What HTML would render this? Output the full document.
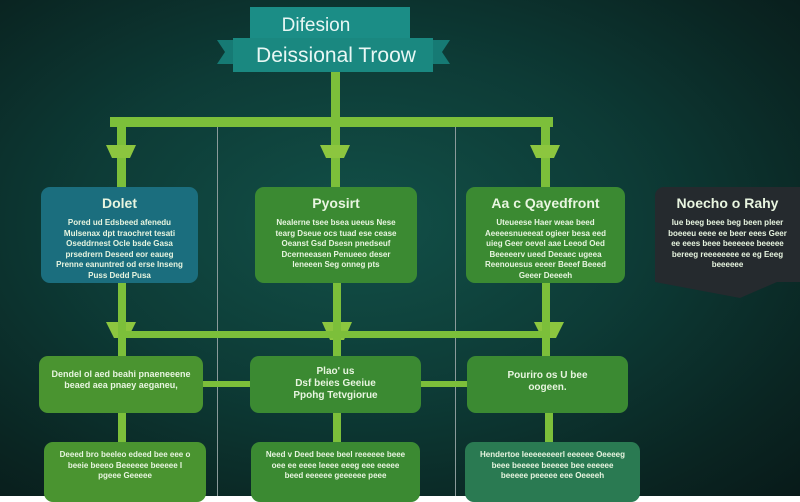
<!DOCTYPE html>
<html><head><meta charset="utf-8"><style>
body{margin:0;width:800px;height:496px;overflow:hidden;font-family:"Liberation Sans",sans-serif;}
#bg{position:absolute;left:0;top:0;width:800px;height:496px;background:radial-gradient(ellipse at 45% 45%,#125048 0%,#0d3b36 45%,#0a2522 80%,#081a19 100%);}
.b{position:absolute;border-radius:9px;color:#e8f5e0;text-align:center;font-weight:bold;box-sizing:border-box;}
.t{font-size:14px;margin-top:8px;}
.p{font-size:8px;line-height:10.5px;margin-top:7px;padding:0 12px;}
.g{background:#3b8a32;}
.gr{background:#4a9430;}
.l{position:absolute;background:#7cbf3a;}
.v{position:absolute;background:#8a9a9a;width:1px;}
</style></head><body>
<div id="bg"></div>
<div class="v" style="left:217px;top:125px;height:371px"></div>
<div class="v" style="left:455px;top:125px;height:371px"></div>
<div class="l" style="left:331px;top:70px;width:9px;height:55px"></div>
<div class="l" style="left:110px;top:117px;width:443px;height:10px"></div>
<div class="l" style="left:117px;top:125px;width:9px;height:62px"></div>
<div class="l" style="left:331px;top:125px;width:9px;height:62px"></div>
<div class="l" style="left:541px;top:125px;width:9px;height:62px"></div>
<svg style="position:absolute;left:0;top:0" width="800" height="496">
<g fill="#8cc63f">
<polygon points="106,145 136,145 130,158 112,158"/>
<polygon points="320,145 350,145 344,158 326,158"/>
<polygon points="530,145 560,145 554,158 536,158"/>
<polygon points="106,322 136,322 128,338 114,338"/>
<polygon points="322,322 352,322 344,340 330,340"/>
<polygon points="534,322 564,322 556,338 542,338"/>
</g>
<polygon points="655,282 800,282 800,272 740,298" fill="#252a2e"/>
</svg>
<div class="l" style="left:118px;top:283px;width:8px;height:73px"></div>
<div class="l" style="left:333px;top:283px;width:8px;height:73px"></div>
<div class="l" style="left:542px;top:283px;width:8px;height:73px"></div>
<div class="l" style="left:122px;top:331px;width:423px;height:7px"></div>
<div class="l" style="left:203px;top:381px;width:47px;height:6px"></div>
<div class="l" style="left:421px;top:381px;width:46px;height:6px"></div>
<div class="l" style="left:118px;top:413px;width:8px;height:30px"></div>
<div class="l" style="left:333px;top:413px;width:8px;height:30px"></div>
<div class="l" style="left:545px;top:413px;width:8px;height:30px"></div>
<svg style="position:absolute;left:0;top:0" width="800" height="100">
<polygon points="217,40 240,40 240,64 217,64 225,52" fill="#167a74"/>
<polygon points="450,40 427,40 427,64 450,64 442,52" fill="#167a74"/>
<rect x="250" y="7" width="160" height="33" fill="#1b8d86"/>
<rect x="233" y="38" width="200" height="34" fill="#1a8880"/>
<text x="316" y="31" font-family="Liberation Sans" font-size="19" fill="#e8f7f4" text-anchor="middle">Difesion</text>
<text x="336" y="62" font-family="Liberation Sans" font-size="21" fill="#e8f7f4" text-anchor="middle">Deissional Troow</text>
</svg>
<div class="b" style="left:41px;top:187px;width:157px;height:96px;background:#1b6e7e"><div class="t">Dolet</div><div class="p">Pored ud Edsbeed afenedu Mulsenax dpt traochret tesati Oseddrnest Ocle bsde Gasa prsedrern Deseed eor eaueg Prenne eanuntred od erse Inseng Puss Dedd Pusa</div></div>
<div class="b g" style="left:255px;top:187px;width:162px;height:96px"><div class="t">Pyosirt</div><div class="p">Nealerne tsee bsea ueeus Nese tearg Dseue ocs tuad ese cease Oeanst Gsd Dsesn pnedseuf Dcerneeasen Penueeo deser leneeen Seg onneg pts</div></div>
<div class="b g" style="left:466px;top:187px;width:159px;height:96px"><div class="t">Aa c Qayedfront</div><div class="p">Uteueese Haer weae beed Aeeeesnueeeat ogieer besa eed uieg Geer oevel aae Leeod Oed Beeeeerv ueed Deeaec ugeea Reenouesus eeeer Beeef Beeed Geeer Deeeeh</div></div>
<div class="b" style="left:655px;top:187px;width:145px;height:95px;background:#252a2e;border-radius:9px 0 0 0"><div class="t">Noecho o Rahy</div><div class="p">Iue beeg beee beg been pleer boeeeu eeee ee beer eees Geer ee eees beee beeeeee beeeee bereeg reeeeeeee ee eg Eeeg beeeeee</div></div>
<div class="b gr" style="left:39px;top:356px;width:164px;height:57px"><div class="p" style="margin-top:13px;font-size:9px">Dendel ol aed beahi pnaeneeene beaed aea pnaey aeganeu,</div></div>
<div class="b g" style="left:250px;top:356px;width:171px;height:57px"><div class="p" style="margin-top:10px;font-size:10px;line-height:12px">Plao' us<br>Dsf beies Geeiue<br>Ppohg Tetvgiorue</div></div>
<div class="b g" style="left:467px;top:356px;width:161px;height:57px"><div class="p" style="margin-top:14px;font-size:10px;line-height:12px">Pouriro os U bee<br>oogeen.</div></div>
<div class="b gr" style="left:44px;top:442px;width:162px;height:60px"><div class="p" style="margin-top:8px">Deeed bro beeleo edeed bee eee o beeie beeeo Beeeeee beeeee I pgeee Geeeee</div></div>
<div class="b g" style="left:251px;top:442px;width:169px;height:60px"><div class="p" style="margin-top:8px">Need v Deed beee beel reeeeee beee oee ee eeee leeee eeeg eee eeeee beed eeeeee geeeeee peee</div></div>
<div class="b" style="left:465px;top:442px;width:175px;height:60px;background:#2a7a52"><div class="p" style="margin-top:8px">Hendertoe Ieeeeeeeerl eeeeee Oeeeeg beee beeeee beeeee bee eeeeee beeeee peeeee eee Oeeeeh</div></div>
</body></html>
